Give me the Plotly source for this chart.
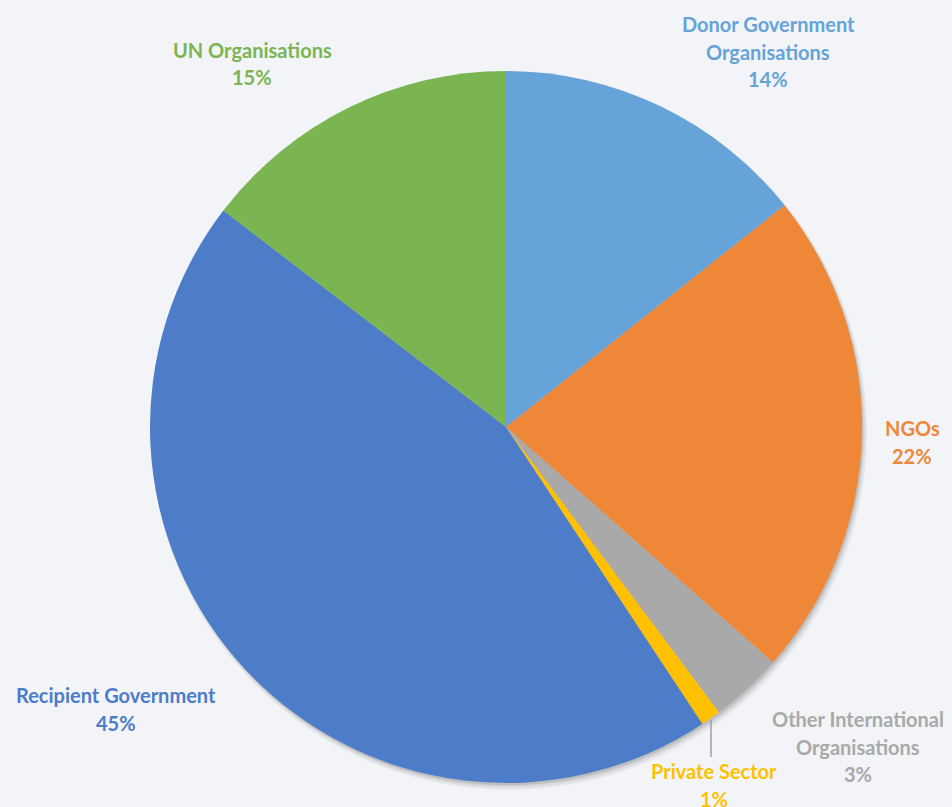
import plotly.graph_objects as go

labels = ["Donor Government Organisations", "NGOs", "Other International Organisations",
          "Private Sector", "Recipient Government", "UN Organisations"]
label_lines = [["Donor Government", "Organisations"], ["NGOs"], ["Other International", "Organisations"],
               ["Private Sector"], ["Recipient Government"], ["UN Organisations"]]
values = [14.3, 22.2, 3.3, 0.9, 44.7, 14.6]
colors = ["#66A3D9", "#EE8838", "#A9A9A9", "#FFC000", "#4D7CC9", "#7AB552"]
label_colors = ["#66A3D9", "#EE8838", "#A9A9A9", "#FFC000", "#4D7CC9", "#7AB552"]
# label centre (px) and first-line y (px)
label_pos = [(768, 24), (912, 428), (858, 719), (714, 771), (116, 695), (252, 50)]

W, H = 952, 807
BG = "#F2F4F8"
CX, CY, R = 506, 427, 356

fig = go.Figure(go.Pie(
    labels=labels, values=values, sort=False, direction="clockwise", rotation=0,
    marker=dict(colors=colors, line=dict(width=0)),
    textinfo="none", hoverinfo="label+percent",
    domain=dict(x=[(CX - R) / W, (CX + R) / W], y=[1 - (CY + R) / H, 1 - (CY - R) / H]),
    showlegend=False,
))

total = sum(values)
annotations = []
for lines, v, c, (cx, cy) in zip(label_lines, values, label_colors, label_pos):
    all_lines = lines + [f"{round(v / total * 100)}%"]
    for i, t in enumerate(all_lines):
        annotations.append(dict(
            text=f"<b>{t}</b>", x=cx / W, y=1 - (cy + 27.5 * i) / H, xref="paper", yref="paper",
            xanchor="center", yanchor="middle", showarrow=False,
            font=dict(family="Lato", size=20, color=c),
        ))

# soft drop shadow behind the pie
for off, rr, op in [(5, 2, 0.10), (4, 1, 0.12), (3, 0, 0.15), (2, 0, 0.2)]:
    fig.add_shape(type="circle", xref="paper", yref="paper", layer="below",
                  x0=(CX - R - rr + off * 0.6) / W, x1=(CX + R + rr + off * 0.6) / W,
                  y0=1 - (CY + R + rr + off) / H, y1=1 - (CY - R - rr + off) / H,
                  fillcolor="#808080", opacity=op, line=dict(width=0))

fig.add_shape(type="line", xref="paper", yref="paper",
              x0=711 / W, x1=711 / W, y0=1 - 720 / H, y1=1 - 757 / H,
              line=dict(color="#A0A0A0", width=1.5))

fig.update_layout(
    width=W, height=H, margin=dict(l=0, r=0, t=0, b=0),
    paper_bgcolor=BG, plot_bgcolor=BG, annotations=annotations,
)
fig.write_html("out.html", config={"displayModeBar": False},
               post_script="document.body.style.margin='0';document.body.style.background='#F2F4F8';")
